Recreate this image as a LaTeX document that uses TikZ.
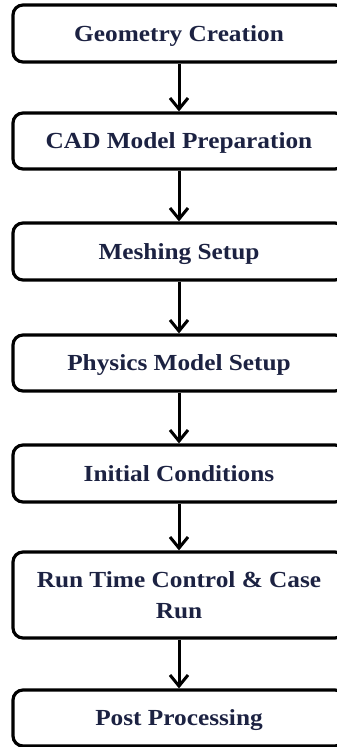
\documentclass[tikz,border=0pt]{standalone}
\usepackage{fontspec}
\setmainfont{Liberation Serif}[FakeStretch=1.1]
\usetikzlibrary{arrows.meta}
\definecolor{txt}{RGB}{28,34,66}
\begin{document}
\begin{tikzpicture}[x=1pt,y=1pt,
  stepbox/.style={draw=black, line width=3.2pt, rounded corners=10pt, minimum width=332pt,
    text=txt, font=\bfseries\fontsize{23}{31}\selectfont, align=center, inner sep=0pt,
    text depth=0pt},
  conn/.style={line width=3pt, -{Straight Barb[length=11pt,width=18pt,line width=3pt]}}]
\useasboundingbox (0,0) rectangle (337,747);
\clip (0,0) rectangle (337,747);
\fill[white] (0,0) rectangle (337,747);
\node[stepbox, minimum height=57pt] (b1) at (179,713.5) {Geometry Creation};
\node[stepbox, minimum height=56pt] (b2) at (179,606) {CAD Model Preparation};
\node[stepbox, minimum height=57pt] (b3) at (179,495.5) {Meshing Setup};
\node[stepbox, minimum height=56pt] (b4) at (179,384) {Physics Model Setup};
\node[stepbox, minimum height=57pt] (b5) at (179,273.5) {Initial Conditions};
\node[stepbox, minimum height=86pt] (b6) at (179,152) {Run Time Control \& Case\\Run};
\node[stepbox, minimum height=56pt] (b7) at (179,29) {Post Processing};
\draw[conn] (b1.south) -- (b2.north);
\draw[conn] (b2.south) -- (b3.north);
\draw[conn] (b3.south) -- (b4.north);
\draw[conn] (b4.south) -- (b5.north);
\draw[conn] (b5.south) -- (b6.north);
\draw[conn] (b6.south) -- (b7.north);
\end{tikzpicture}
\end{document}
